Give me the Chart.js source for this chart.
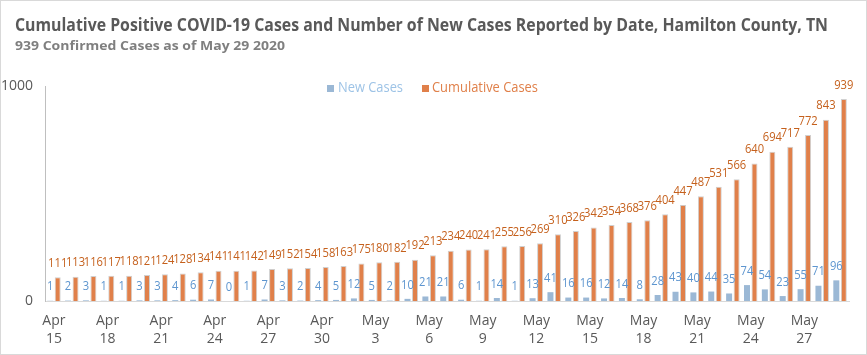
<!DOCTYPE html>
<html>
<head>
<meta charset="utf-8">
<script src="https://cdn.jsdelivr.net/npm/chart.js@4/dist/chart.umd.min.js"></script>
<style>
html,body{margin:0;padding:0;background:#fff;}
#wrap{width:867px;height:355px;position:relative;}
</style>
</head>
<body>
<div id="wrap"><canvas id="c" width="867" height="355"></canvas></div>
<script>
const categories = [
 "Apr 15","Apr 16","Apr 17","Apr 18","Apr 19","Apr 20","Apr 21","Apr 22","Apr 23","Apr 24",
 "Apr 25","Apr 26","Apr 27","Apr 28","Apr 29","Apr 30","May 1","May 2","May 3","May 4",
 "May 5","May 6","May 7","May 8","May 9","May 10","May 11","May 12","May 13","May 14",
 "May 15","May 16","May 17","May 18","May 19","May 20","May 21","May 22","May 23","May 24",
 "May 25","May 26","May 27","May 28","May 29"];
const newCases = [1,2,3,1,1,3,3,4,6,7,0,1,7,3,2,4,5,12,5,2,10,21,21,6,1,14,1,13,41,16,16,12,14,8,28,43,40,44,35,74,54,23,55,71,96];
const cumulativeCases = [111,113,116,117,118,121,124,128,134,141,141,142,149,152,154,158,163,175,180,182,192,213,234,240,241,255,256,269,310,326,342,354,368,376,404,447,487,531,566,640,694,717,772,843,939];
const yTicks = [0, 1000];
const titleText = "Cumulative Positive COVID-19 Cases and Number of New Cases Reported by Date, Hamilton County, TN";
const subtitleText = "939 Confirmed Cases as of May 29 2020";

const FONT = "'Open Sans',sans-serif";
const BLUE = "#9bb8d5";
const ORANGE = "#e0804a";
const BLUE_LBL = "#5d95cf";
const ORANGE_LBL = "#c5601c";

// draw text squeezed horizontally (Calibri-like narrowness); if width given, fit to it
function squeezedText(ctx, text, x, y, font, color, align, sx, width) {
  ctx.save();
  ctx.font = font;
  ctx.fillStyle = color;
  ctx.textBaseline = "middle";
  ctx.textAlign = align;
  if (width) sx = width / ctx.measureText(text).width;
  ctx.translate(x, y);
  ctx.scale(sx, 1);
  ctx.fillText(text, 0, 0);
  ctx.restore();
}

const decor = {
  id: 'decor',
  afterDraw(chart) {
    const ctx = chart.ctx;
    ctx.save();
    ctx.strokeStyle = "#d9d9d9";
    ctx.lineWidth = 1;
    ctx.strokeRect(0.5, 0.5, chart.width - 1, chart.height - 1);
    ctx.restore();
    squeezedText(ctx, titleText, 15, 26, "bold 18px " + FONT, "#595959", "left", 1, 813);
    squeezedText(ctx, subtitleText, 15, 46, "bold 13px " + FONT, "#7f7f7f", "left", 1, 270);
    ctx.save();
    ctx.fillStyle = BLUE;
    ctx.fillRect(327, 85, 7, 7);
    ctx.fillStyle = ORANGE;
    ctx.fillRect(422, 85, 7, 7);
    ctx.restore();
    squeezedText(ctx, chart.data.datasets[0].label, 338, 88, "14px " + FONT, "#9dc3e6", "left", 1, 65);
    squeezedText(ctx, chart.data.datasets[1].label, 432, 88, "14px " + FONT, ORANGE, "left", 1, 106);
  },
  afterDatasetsDraw(chart) {
    const ctx = chart.ctx;
    chart.data.datasets.forEach((ds, di) => {
      const meta = chart.getDatasetMeta(di);
      const col = di === 0 ? BLUE_LBL : ORANGE_LBL;
      meta.data.forEach((el, i) => {
        squeezedText(ctx, String(ds.data[i]), el.x, el.y - 14, "13px " + FONT, col, "center", 0.86);
      });
    });
  }
};

new Chart(document.getElementById('c'), {
  type: 'bar',
  data: {
    labels: categories,
    datasets: [
      { label: "New Cases", data: newCases, backgroundColor: BLUE, borderWidth: 0,
        categoryPercentage: 0.84, barPercentage: 0.8 },
      { label: "Cumulative Cases", data: cumulativeCases, backgroundColor: ORANGE,
        borderColor: "#d0d0d0", borderWidth: 1,
        categoryPercentage: 0.84, barPercentage: 0.8 }
    ]
  },
  options: {
    responsive: false,
    animation: false,
    devicePixelRatio: 1,
    layout: { padding: { top: 86, right: 18, bottom: 0, left: 0 } },
    plugins: { legend: { display: false }, title: { display: false }, tooltip: { enabled: false } },
    scales: {
      x: {
        afterFit: (s) => { s.height = 54; },
        grid: { display: false, drawTicks: false },
        border: { color: "#d9d9d9" },
        ticks: {
          autoSkip: false, maxRotation: 0, minRotation: 0,
          color: "#595959", font: { family: FONT, size: 14, lineHeight: 1.3 }, padding: 11,
          callback: function(v, i) {
            if (i % 3 !== 0) return "";
            return categories[i].split(" ");
          }
        }
      },
      y: {
        min: 0, max: 1000,
        afterBuildTicks: (s) => { s.ticks = yTicks.map(v => ({ value: v })); },
        afterFit: (s) => { s.width = 45; },
        grid: { display: false, drawTicks: false },
        border: { color: "#bfbfbf" },
        ticks: { color: "#595959", font: { family: FONT, size: 14 }, padding: 12,
          callback: (v) => String(v) }
      }
    }
  },
  plugins: [decor]
});
</script>
</body>
</html>
